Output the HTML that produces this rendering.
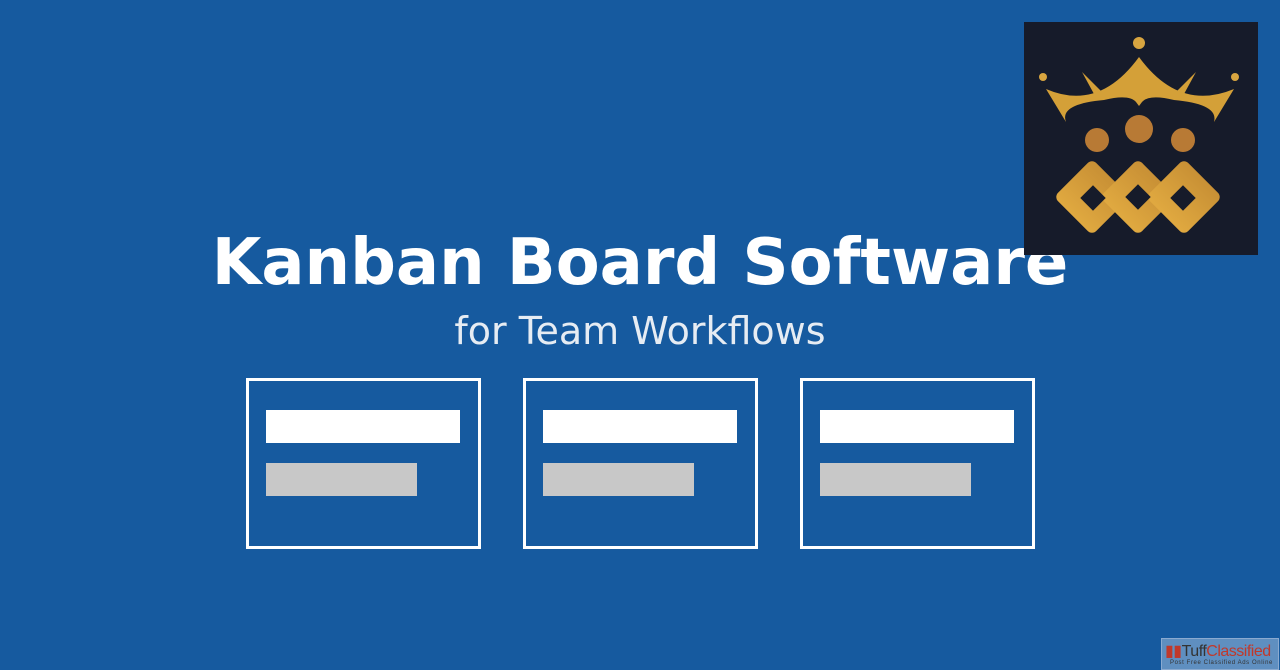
<!DOCTYPE html>
<html><head><style>
body{margin:0;width:1280px;height:670px;background:#165a9f;position:relative;overflow:hidden;font-family:"DejaVu Sans","Liberation Sans",sans-serif}
.t{position:absolute;left:0;width:1280px;text-align:center;color:#fff}
.card{position:absolute;top:378px;width:229px;height:165px;border:3px solid #fff}
.w{position:absolute;left:17px;top:29px;width:194px;height:33px;background:#fff}
.g{position:absolute;left:17px;top:82px;width:151px;height:33px;background:#c8c8c8}
</style></head><body>
<div class="t" style="top:223px;font-size:64px;font-weight:bold;line-height:80px">Kanban Board Software</div>
<div class="t" style="top:307px;font-size:38px;line-height:48px;color:#e6ecf3">for Team Workflows</div>
<div class="card" style="left:246px"><div class="w"></div><div class="g"></div></div>
<div class="card" style="left:523px"><div class="w"></div><div class="g"></div></div>
<div class="card" style="left:800px"><div class="w"></div><div class="g"></div></div>
<svg style="position:absolute;left:1024px;top:22px" width="234" height="233" viewBox="0 0 234 233">
<defs><linearGradient id="gd" x1="0" y1="0" x2="0" y2="1"><stop offset="0" stop-color="#c89035"/><stop offset="1" stop-color="#e0a940"/></linearGradient></defs>
<rect width="234" height="233" fill="#161b2a"/>
<circle cx="115" cy="21" r="6" fill="#d8a540"/>
<circle cx="19" cy="55" r="4" fill="#d8a540"/><circle cx="211" cy="55" r="4" fill="#d8a540"/>
<path d="M22 67 Q75 90 115 35 Q155 90 210 67 L190 100 Q195 82 150 78 Q125 72 118 80 L115 84 L112 80 Q105 72 80 78 Q35 82 42 100 Z" fill="#d4a038"/>
<path d="M58 50 L78 70 L70 72 Z M172 50 L152 70 L160 72 Z" fill="#d4a038"/>
<circle cx="73" cy="118" r="12" fill="#b87a35"/><circle cx="115" cy="107" r="14" fill="#b87a35"/><circle cx="159" cy="118" r="12" fill="#b87a35"/>
<g fill="url(#gd)">
<rect x="41" y="148" width="54" height="54" rx="6" transform="rotate(45 68 175)"/>
<rect x="87" y="148" width="54" height="54" rx="6" transform="rotate(45 114 175)"/>
<rect x="133" y="148" width="54" height="54" rx="6" transform="rotate(45 160 175)"/>
</g>
<g fill="#161b2a"><rect x="60" y="167" width="18" height="18" transform="rotate(45 69 176)"/><rect x="105" y="166" width="18" height="18" transform="rotate(45 114 175)"/><rect x="150" y="167" width="18" height="18" transform="rotate(45 159 176)"/></g>
</svg>
<div style="position:absolute;left:1161px;top:638px;width:116px;height:30px;background:#5f8fc0;border:1px solid #8aaad0;font-family:'Liberation Sans',sans-serif;white-space:nowrap;overflow:hidden">
<div style="position:absolute;left:3px;top:2px;font-size:16px;color:#333;letter-spacing:-0.5px"><span style="color:#c0392b">▮▮</span>Tuff<span style="color:#c0392b">Classified</span></div>
<div style="position:absolute;left:8px;top:21px;font-size:6px;color:#333;letter-spacing:0.6px">Post Free Classified Ads Online</div>
</div>
</body></html>
